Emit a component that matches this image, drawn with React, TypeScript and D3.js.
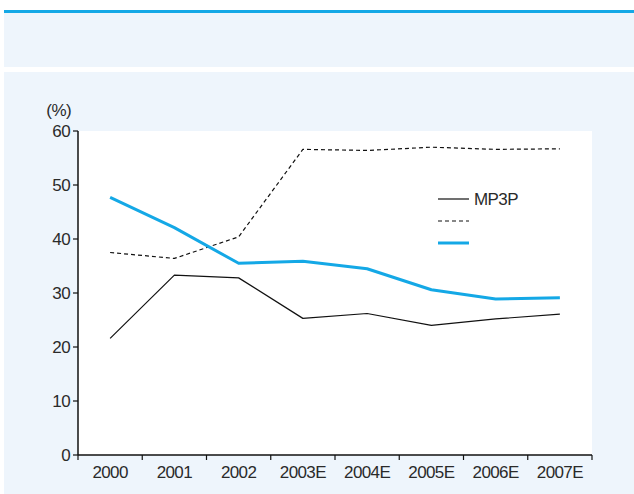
import React from "react";
import * as d3 from "d3";

const years = ["2000", "2001", "2002", "2003E", "2004E", "2005E", "2006E", "2007E"];
const mp3pShare = [21.6, 33.3, 32.8, 25.3, 26.2, 24.0, 25.2, 26.1];
const dashedShare = [37.5, 36.4, 40.4, 56.6, 56.4, 57.0, 56.6, 56.7];
const blueShare = [47.7, 42.1, 35.5, 35.9, 34.5, 30.6, 28.9, 29.1];
const yTicks = [0, 10, 20, 30, 40, 50, 60];
const legendLabels = ["MP3P", "", ""];

const W = 634;
const H = 494;
const plot = { left: 78, right: 592, top: 131, bottom: 455 };
const BLUE = "#14a8e6";
const BG = "#eef5fc";
const TEXT = "#2a2a2a";
const FONT = "'Liberation Sans', Arial, sans-serif";

export default function App() {
  const x = d3.scaleBand<string>().domain(years).range([plot.left, plot.right]);
  const y = d3.scaleLinear().domain([0, 60]).range([plot.bottom, plot.top]);
  const cx = (d: string) => (x(d) ?? 0) + x.bandwidth() / 2;
  const line = d3
    .line<number>()
    .x((_, i) => cx(years[i]))
    .y((v) => y(v));

  const series = [
    { values: mp3pShare, stroke: "#111", width: 1.2, dash: undefined as string | undefined },
    { values: dashedShare, stroke: "#111", width: 1.2, dash: "4,3" },
    { values: blueShare, stroke: BLUE, width: 3, dash: undefined as string | undefined },
  ];

  const xTickPositions = years.map((d) => x(d) ?? 0).concat([plot.right]);

  return (
    <svg
      width={W}
      height={H}
      style={{ position: "absolute", left: 0, top: 0, display: "block" }}
      fontFamily={FONT}
      letterSpacing={-0.6}
    >
      <rect x={0} y={0} width={W} height={H} fill="#fff" />
      <rect x={4} y={13} width={W - 4} height={54} fill={BG} />
      <rect x={4} y={10} width={W - 4} height={3} fill={BLUE} />
      <rect x={4} y={72} width={W - 4} height={H - 72} fill={BG} />

      <rect
        x={plot.left}
        y={plot.top}
        width={plot.right - plot.left}
        height={plot.bottom - plot.top}
        fill="#fff"
      />

      <text x={71} y={110} textAnchor="end" dominantBaseline="central" fontSize={17} fill={TEXT}>
        (%)
      </text>

      {yTicks.map((t) => (
        <g key={t}>
          <line x1={plot.left - 5} x2={plot.left} y1={y(t)} y2={y(t)} stroke="#111" strokeWidth={1.2} />
          <text
            x={plot.left - 8}
            y={y(t)}
            textAnchor="end"
            dominantBaseline="central"
            fontSize={17}
            fill={TEXT}
          >
            {t}
          </text>
        </g>
      ))}

      {xTickPositions.map((p, i) => (
        <line key={i} x1={p} x2={p} y1={plot.bottom} y2={plot.bottom + 5} stroke="#111" strokeWidth={1.2} />
      ))}
      {years.map((d) => (
        <text key={d} x={cx(d)} y={plot.bottom + 17} textAnchor="middle" dominantBaseline="central" fontSize={17} fill={TEXT}>
          {d}
        </text>
      ))}

      <line x1={plot.left} x2={plot.left} y1={plot.top} y2={plot.bottom} stroke="#111" strokeWidth={1.5} />
      <line x1={plot.left} x2={plot.right} y1={plot.bottom} y2={plot.bottom} stroke="#111" strokeWidth={1.5} />

      {series.map((s, i) => (
        <path
          key={i}
          d={line(s.values) ?? ""}
          fill="none"
          stroke={s.stroke}
          strokeWidth={s.width}
          strokeDasharray={s.dash}
          strokeLinejoin="round"
        />
      ))}

      {series.map((s, i) => {
        const ly = 199 + i * 22;
        return (
          <g key={i}>
            <line x1={438} x2={469} y1={ly} y2={ly} stroke={s.stroke} strokeWidth={s.width} strokeDasharray={s.dash} />
            <text x={474} y={ly} dominantBaseline="central" fontSize={17} fill={TEXT}>
              {legendLabels[i]}
            </text>
          </g>
        );
      })}
    </svg>
  );
}
